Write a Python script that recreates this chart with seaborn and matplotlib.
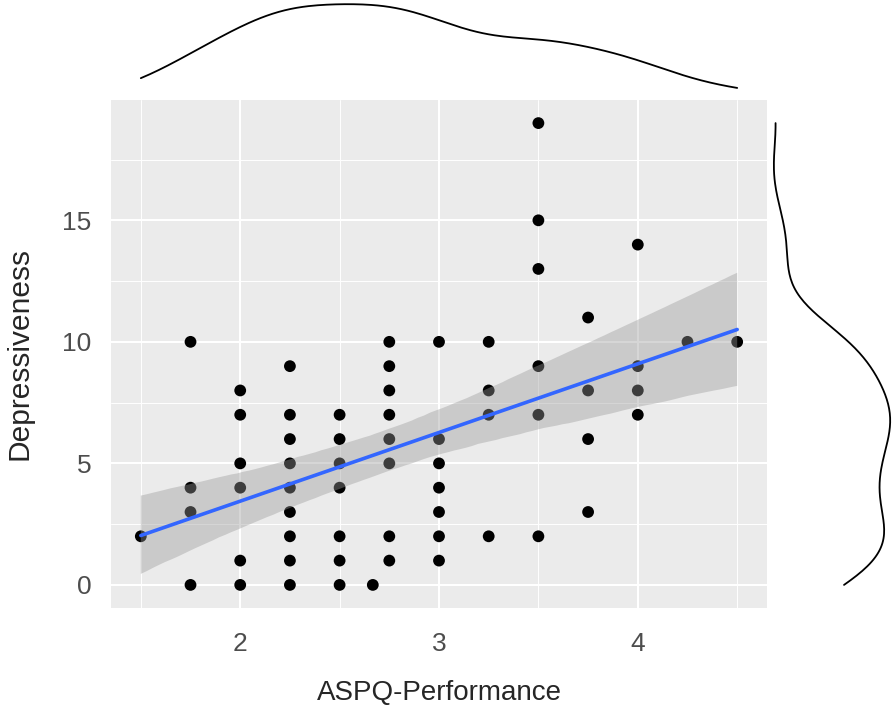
import numpy as np
import pandas as pd
import matplotlib
matplotlib.use("Agg")
import matplotlib.pyplot as plt
import seaborn as sns

perf_levels = [1.5, 1.75, 2.0, 2.25, 2.5, 2.667, 2.75, 3.0, 3.25, 3.5, 3.75, 4.0, 4.25, 4.5]
dep_scores = [
    [2],
    [10, 4, 3, 0],
    [8, 7, 5, 4, 1, 0],
    [9, 7, 6, 5, 4, 3, 2, 1, 0],
    [7, 6, 5, 4, 2, 1, 0],
    [0],
    [10, 9, 8, 7, 6, 5, 2, 1],
    [10, 6, 5, 4, 3, 2, 1],
    [10, 8, 7, 2],
    [19, 15, 13, 9, 7, 2],
    [11, 8, 6, 3],
    [14, 9, 8, 7],
    [10],
    [10],
]
x_ticks = [2, 3, 4]
y_ticks = [0, 5, 10, 15]

df = pd.DataFrame({
    "ASPQ-Performance": [x for x, ys in zip(perf_levels, dep_scores) for _ in ys],
    "Depressiveness": [y for ys in dep_scores for y in ys],
})


def nrd0_factor(v, adjust=1.0):
    # R's default density bandwidth, expressed as a scipy factor
    v = np.asarray(v, dtype=float)
    sd = v.std(ddof=1)
    iqr = np.subtract(*np.percentile(v, [75, 25]))
    bw = 0.9 * min(sd, iqr / 1.34) * len(v) ** -0.2
    return adjust * bw / sd


sns.set_theme(style="white")
plt.rcParams['font.family'] = ['Liberation Sans', 'DejaVu Sans']

W, H = 896, 715
fig = plt.figure(figsize=(W / 100, H / 100), dpi=100)

def px_axes(left, top, right, bottom):
    return fig.add_axes([left / W, 1 - bottom / H, (right - left) / W, (bottom - top) / H])

ax = px_axes(111, 100, 767, 608)
ax_top = px_axes(111, 0, 767, 98)
ax_right = px_axes(769, 100, 896, 608)

# main scatter + linear fit
ax.set_facecolor('#EBEBEB')
sns.scatterplot(data=df, x="ASPQ-Performance", y="Depressiveness", ax=ax,
                color='black', s=72, edgecolor='none', zorder=2)
sns.regplot(data=df, x="ASPQ-Performance", y="Depressiveness", ax=ax,
            scatter=False, ci=95, n_boot=2000, seed=3,
            line_kws=dict(color='#3366FF', lw=2.6, zorder=4))
band = ax.collections[-1]
band.set_facecolor('#999999')
band.set_alpha(0.4)
band.set_edgecolor('none')
band.set_zorder(3)

ax.set_xlim(1.35, 4.65)
ax.set_ylim(-0.95, 19.95)
ax.set_xticks(x_ticks)
ax.set_yticks(y_ticks)
ax.set_xticks([1.5, 2.5, 3.5, 4.5], minor=True)
ax.set_yticks([2.5, 7.5, 12.5, 17.5], minor=True)
ax.grid(True, which='major', color='white', lw=1.5)
ax.grid(True, which='minor', color='white', lw=0.7)
ax.set_axisbelow(True)
for s in ax.spines.values():
    s.set_visible(False)
ax.tick_params(which='major', length=5, width=1.0, color='#333333',
               labelcolor='#4D4D4D', labelsize=19, direction='out')
ax.tick_params(axis='x', which='major', pad=12)
ax.tick_params(axis='y', which='major', pad=9)
ax.tick_params(which='minor', length=0)
ax.set_xlabel("ASPQ-Performance", fontsize=20)
ax.set_ylabel("Depressiveness", fontsize=21.5)
ax.xaxis.set_label_coords(0.5, -0.142)
ax.yaxis.set_label_coords(-0.118, 0.5)

# marginal densities
sns.kdeplot(x=df["ASPQ-Performance"], ax=ax_top, cut=0, color='black', lw=1.3,
            bw_method=nrd0_factor(df["ASPQ-Performance"], 0.85))
ax_top.set_xlim(ax.get_xlim())
ax_top.set_ylim(0, ax_top.get_ylim()[1])
ax_top.axis('off')

sns.kdeplot(y=df["Depressiveness"], ax=ax_right, cut=0, color='black', lw=1.3,
            bw_method=nrd0_factor(df["Depressiveness"], 0.85))
ax_right.set_ylim(ax.get_ylim())
ax_right.set_xlim(0, ax_right.get_xlim()[1])
ax_right.axis('off')

fig.savefig("out.png", dpi=100)
